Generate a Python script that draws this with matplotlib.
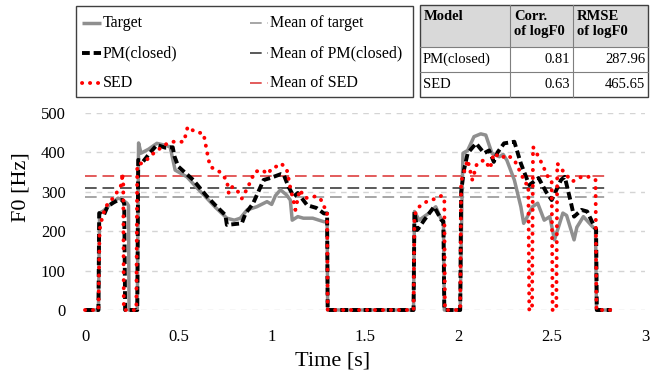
import matplotlib
matplotlib.use("Agg")
import matplotlib.pyplot as plt
from matplotlib.lines import Line2D
from matplotlib.patches import Rectangle

plt.rcParams['font.family'] = ['Liberation Serif', 'DejaVu Serif']

# ---------------- data ----------------
target_t = [0, 0.072, 0.078, 0.10, 0.13, 0.177, 0.20, 0.225, 0.233, 0.236, 0.28, 0.287, 0.30, 0.34, 0.385,
            0.43, 0.456, 0.483, 0.546, 0.60, 0.65, 0.70, 0.76, 0.80, 0.832, 0.868, 0.92, 0.975, 1.0,
            1.02, 1.047, 1.08, 1.10, 1.11, 1.14, 1.17, 1.22, 1.28, 1.297, 1.30, 1.76, 1.765, 1.79,
            1.84, 1.879, 1.91, 1.92, 1.925, 2.01, 2.02, 2.025, 2.05, 2.084, 2.12, 2.147, 2.18, 2.22,
            2.24, 2.26, 2.30, 2.335, 2.35, 2.36, 2.397, 2.425, 2.46, 2.49, 2.515, 2.56, 2.58, 2.62,
            2.635, 2.67, 2.72, 2.735, 2.74, 2.82]
target_f0 = [0, 0, 246, 252, 266, 284, 280, 271, 265, 0, 0, 424, 398, 408, 423,
             418, 414, 355, 338, 310, 285, 260, 233, 228, 233, 254, 262, 275, 268,
             290, 305, 292, 279, 228, 237, 233, 233, 224, 224, 0, 0, 250, 228,
             245, 262, 228, 225, 0, 0, 300, 398, 405, 440, 447, 444, 398, 389,
             395, 380, 330, 262, 220, 228, 262, 271, 228, 237, 178, 246, 240, 178,
             210, 237, 211, 205, 0, 0]

pm_t = [0, 0.072, 0.076, 0.10, 0.12, 0.15, 0.177, 0.20, 0.21, 0.215, 0.28, 0.285, 0.31, 0.35, 0.385,
        0.43, 0.47, 0.48, 0.50, 0.58, 0.65, 0.70, 0.752, 0.76, 0.84, 0.86, 0.90, 0.957, 0.993,
        1.05, 1.065, 1.09, 1.118, 1.14, 1.19, 1.24, 1.28, 1.297, 1.30, 1.76, 1.765, 1.78, 1.82,
        1.87, 1.91, 1.92, 1.925, 2.01, 2.015, 2.03, 2.05, 2.095, 2.138, 2.165, 2.19, 2.21, 2.245,
        2.30, 2.335, 2.38, 2.43, 2.47, 2.50, 2.55, 2.57, 2.60, 2.62, 2.66, 2.69, 2.73, 2.738,
        2.742, 2.82]
pm_f0 = [0, 0, 246, 240, 262, 272, 279, 279, 270, 0, 0, 381, 376, 400, 419,
         412, 413, 389, 364, 330, 290, 265, 241, 216, 220, 245, 270, 330, 335,
         345, 343, 313, 288, 297, 266, 259, 245, 245, 0, 0, 250, 203, 230,
         262, 228, 225, 0, 0, 300, 355, 398, 423, 398, 405, 376, 400, 423,
         427, 372, 317, 335, 300, 279, 330, 338, 279, 237, 254, 250, 211, 205,
         0, 0]

sed_t = [0, 0.072, 0.078, 0.09, 0.11, 0.15, 0.18, 0.197, 0.20, 0.205, 0.208, 0.275, 0.28, 0.30, 0.32,
         0.36, 0.39, 0.43, 0.47, 0.53, 0.55, 0.59, 0.635, 0.655, 0.67, 0.72, 0.74, 0.76, 0.77,
         0.79, 0.82, 0.84, 0.87, 0.91, 0.95, 0.98, 1.0, 1.03, 1.05, 1.08, 1.10, 1.12, 1.127, 1.15,
         1.18, 1.23, 1.26, 1.28, 1.297, 1.30, 1.76, 1.765, 1.79, 1.83, 1.88, 1.91, 1.925, 1.928,
         2.01, 2.015, 2.05, 2.075, 2.10, 2.14, 2.17, 2.19, 2.23, 2.26, 2.30, 2.335, 2.36, 2.375,
         2.38, 2.395, 2.40, 2.43, 2.455, 2.48, 2.50, 2.505, 2.525, 2.53, 2.57, 2.61, 2.66, 2.70,
         2.735, 2.74, 2.82]
sed_f0 = [0, 0, 203, 230, 262, 284, 305, 320, 347, 320, 0, 0, 368, 372, 376,
          395, 406, 420, 427, 427, 465, 452, 448, 398, 364, 351, 340, 330, 296,
          313, 300, 283, 309, 351, 355, 345, 360, 365, 372, 359, 310, 271, 254, 305,
          284, 288, 284, 262, 255, 0, 0, 241, 262, 275, 283, 290, 285, 0,
          0, 326, 381, 330, 372, 381, 359, 398, 385, 394, 381, 347, 321, 320,
          0, 0, 414, 389, 364, 338, 330, 0, 0, 372, 347, 326, 338, 338,
          330, 0, 0]

mean_target = 288
mean_pm = 309
mean_sed = 341
mean_span = [0.0, 2.81]

x_ticks = [0, 0.5, 1, 1.5, 2, 2.5, 3]
x_tick_labels = ["0", "0.5", "1", "1.5", "2", "2.5", "3"]
y_ticks = [0, 100, 200, 300, 400, 500]
y_tick_labels = ["0", "100", "200", "300", "400", "500"]

series_labels = ["Target", "PM(closed)", "SED"]
mean_labels = ["Mean of target", "Mean of PM(closed)", "Mean of SED"]

table_header = ["Model", "Corr.\nof logF0", "RMSE\nof logF0"]
table_models = ["PM(closed)", "SED"]
table_corr = [0.81, 0.63]
table_rmse = [287.96, 465.65]

# ---------------- styles ----------------
st_target = dict(color='#8f8f8f', lw=2.5, solid_capstyle='butt', solid_joinstyle='round')
st_pm = dict(color='black', lw=2.8, linestyle=(0, (2.0, 1.0)), dash_capstyle='butt')
st_sed = dict(color='#ff0000', lw=2.8, linestyle=(0, (0.05, 2.0)), dash_capstyle='round')
st_mt = dict(color='#a6a6a6', lw=1.4, linestyle=(0, (6, 3)))
st_mp = dict(color='#595959', lw=1.4, linestyle=(0, (6, 3)))
st_ms = dict(color='#e35b5b', lw=1.4, linestyle=(0, (6, 3)))

W, H = 651, 370
fig = plt.figure(figsize=(W / 100, H / 100), dpi=100)


def fx(px):
    return px / W


def fy(py):
    return 1 - py / H


ax = fig.add_axes([fx(85), fy(310), (645 - 85) / W, (310 - 113) / H])
ax.set_xlim(0, 3)
ax.set_ylim(0, 500)

ax.plot(target_t, target_f0, clip_on=False, zorder=3, **st_target)
ax.plot(pm_t, pm_f0, clip_on=False, zorder=4, **st_pm)
ax.plot(sed_t, sed_f0, clip_on=False, zorder=5, **st_sed)
ax.plot(mean_span, [mean_target] * 2, zorder=2, **st_mt)
ax.plot(mean_span, [mean_pm] * 2, zorder=2, **st_mp)
ax.plot(mean_span, [mean_sed] * 2, zorder=2, **st_ms)

ax.set_xticks(x_ticks, x_tick_labels)
ax.set_yticks(y_ticks, y_tick_labels)
ax.tick_params(axis='both', length=0, labelsize=12)
ax.tick_params(axis='x', pad=14)
ax.tick_params(axis='y', pad=14)
ax.yaxis.grid(True, color='#d4d4d4', lw=1.0, linestyle=(0, (4, 4)))
ax.set_axisbelow(True)
for s in ax.spines.values():
    s.set_visible(False)

fig.text(fx(333), fy(361), "Time [s]", fontsize=16, ha='center', va='center')
fig.text(fx(21), fy(187), "F0 [Hz]", fontsize=16, ha='center', va='center', rotation=90)

# ---------------- legend box ----------------
fig.add_artist(Rectangle((fx(76), fy(97)), (413 - 76) / W, (97 - 6) / H, transform=fig.transFigure,
                         facecolor='white', edgecolor='#404040', lw=1.0))
row_y = [23, 53, 83]
left_styles = [st_target, st_pm, st_sed]
right_styles = [st_mt, st_mp, st_ms]
for i in range(3):
    y = fy(row_y[i])
    fig.add_artist(Line2D([fx(82), fx(101)], [y, y], transform=fig.transFigure, **left_styles[i]))
    fig.text(fx(103), y, series_labels[i], fontsize=11.5, ha='left', va='center')
    fig.add_artist(Line2D([fx(250), fx(268)], [y, y], transform=fig.transFigure, **right_styles[i]))
    fig.text(fx(270), y, mean_labels[i], fontsize=11.5, ha='left', va='center')

# ---------------- table ----------------
col_x = [420, 510, 573, 648]
row_edges = [5, 47, 72, 97]
fig.add_artist(Rectangle((fx(col_x[0]), fy(row_edges[1])), (col_x[-1] - col_x[0]) / W,
                         (row_edges[1] - row_edges[0]) / H, transform=fig.transFigure,
                         facecolor='#d9d9d9', edgecolor='none'))
for xv in col_x[1:-1]:
    fig.add_artist(Line2D([fx(xv), fx(xv)], [fy(row_edges[0]), fy(row_edges[-1])],
                          transform=fig.transFigure, color='#7f7f7f', lw=0.8))
for yv in row_edges[1:-1]:
    fig.add_artist(Line2D([fx(col_x[0]), fx(col_x[-1])], [fy(yv), fy(yv)],
                          transform=fig.transFigure, color='#7f7f7f', lw=0.8))
fig.add_artist(Rectangle((fx(col_x[0]), fy(row_edges[-1])), (col_x[-1] - col_x[0]) / W,
                         (row_edges[-1] - row_edges[0]) / H, transform=fig.transFigure,
                         facecolor='none', edgecolor='#404040', lw=1.0))
for j, h in enumerate(table_header):
    fig.text(fx(col_x[j] + 4), fy(row_edges[0] + 5), h, fontsize=10.5, fontweight='bold',
             ha='left', va='top', linespacing=1.15)
for i, m in enumerate(table_models):
    yc = fy((row_edges[i + 1] + row_edges[i + 2]) / 2)
    fig.text(fx(col_x[0] + 3), yc, m, fontsize=10.5, ha='left', va='center')
    fig.text(fx(col_x[2] - 3), yc, f"{table_corr[i]:.2f}", fontsize=10.5, ha='right', va='center')
    fig.text(fx(col_x[3] - 3), yc, f"{table_rmse[i]:.2f}", fontsize=10.5, ha='right', va='center')

fig.savefig("out.png", dpi=100)
